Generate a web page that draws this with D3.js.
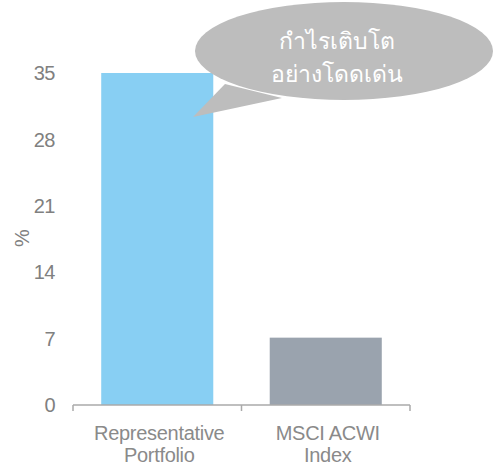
<!DOCTYPE html>
<html>
<head>
<meta charset="utf-8">
<script src="https://cdn.jsdelivr.net/npm/d3@7"></script>
<style>
  body { margin: 0; background: #fff; }
</style>
</head>
<body>
<div id="chart"></div>
<script>
// data
var categories = ["Representative|Portfolio", "MSCI ACWI|Index"];
var values = [35, 7.1];
var barColors = ["#88cff3", "#9aa3ae"];
var yTicks = [0, 7, 14, 21, 28, 35];
var bubbleLines = ["กำไรเติบโต", "อย่างโดดเด่น"];

var width = 493, height = 468;
var margin = {top: 73, left: 73, right: 83, bottom: 63};

var svg = d3.select('#chart')
  .append('svg')
  .attr('width', width)
  .attr('height', height);

// scales
const x = d3.scaleBand()
  .domain(categories)
  .range([margin.left, width - margin.right])
  .paddingInner(0.335)
  .paddingOuter(0.1675);

const y = d3.scaleLinear()
  .domain([0, 35])
  .range([height - margin.bottom, margin.top]);

// bars
svg.selectAll('.bar')
  .data(categories)
  .enter()
  .append('rect')
  .attr('class', 'bar')
  .attr('x', d => x(d))
  .attr('y', (d, i) => y(values[i]))
  .attr('width', x.bandwidth())
  .attr('height', (d, i) => y(0) - y(values[i]))
  .attr('fill', (d, i) => barColors[i]);

// x axis line with bracket ticks
var base = y(0);
var xAxis = svg.append('g').attr('stroke', '#aaa').attr('stroke-width', 1.5).attr('fill', 'none');
xAxis.append('line')
  .attr('x1', x.range()[0]).attr('x2', x.range()[1])
  .attr('y1', base).attr('y2', base);
var tickXs = [x.range()[0], (x(categories[0]) + x.bandwidth() + x(categories[1])) / 2, x.range()[1]];
xAxis.selectAll('.xt')
  .data(tickXs)
  .enter()
  .append('line')
  .attr('x1', d => d).attr('x2', d => d)
  .attr('y1', base).attr('y2', base + 6);

// x labels
categories.forEach(function(c) {
  var parts = c.split('|');
  var t = svg.append('text')
    .attr('x', x(c) + x.bandwidth() / 2)
    .attr('y', base + 35)
    .attr('text-anchor', 'middle')
    .style('font-family', '"Liberation Sans", Arial, sans-serif')
    .style('font-size', '20px')
    .style('letter-spacing', '-0.3px')
    .style('fill', '#8a8a8a');
  parts.forEach(function(p, i) {
    t.append('tspan')
      .attr('x', x(c) + x.bandwidth() / 2 + 2)
      .attr('dy', i === 0 ? 0 : 22)
      .text(p);
  });
});

// y tick labels
svg.selectAll('.ylab')
  .data(yTicks)
  .enter()
  .append('text')
  .attr('x', 55)
  .attr('y', d => y(d))
  .attr('dy', '0.36em')
  .attr('text-anchor', 'end')
  .style('font-family', '"Liberation Sans", Arial, sans-serif')
  .style('font-size', '20px')
  .style('letter-spacing', '-0.5px')
  .style('fill', '#808080')
  .text(d => d);

// y axis title
svg.append('text')
  .attr('transform', 'translate(29, 238) rotate(-90)')
  .attr('text-anchor', 'middle')
  .style('font-family', '"Liberation Sans", Arial, sans-serif')
  .style('font-size', '20px')
  .style('fill', '#808080')
  .text('%');

// speech bubble
var bubble = svg.append('g');
bubble.append('path')
  .attr('d', 'M225,84 L193,117 L282,98 Z')
  .attr('fill', '#bdbdbd');
bubble.append('ellipse')
  .attr('cx', 344).attr('cy', 51)
  .attr('rx', 149).attr('ry', 49)
  .attr('fill', '#bdbdbd');

var bt = bubble.append('text')
  .attr('text-anchor', 'middle')
  .style('font-family', '"Noto Sans", "DejaVu Sans", sans-serif')
  .style('font-size', '23px')
  .style('font-weight', '500')
  .style('fill', '#ffffff');
bubbleLines.forEach(function(l, i) {
  bt.append('tspan')
    .attr('x', 337)
    .attr('y', 49 + i * 33)
    .text(l);
});
</script>
</body>
</html>
